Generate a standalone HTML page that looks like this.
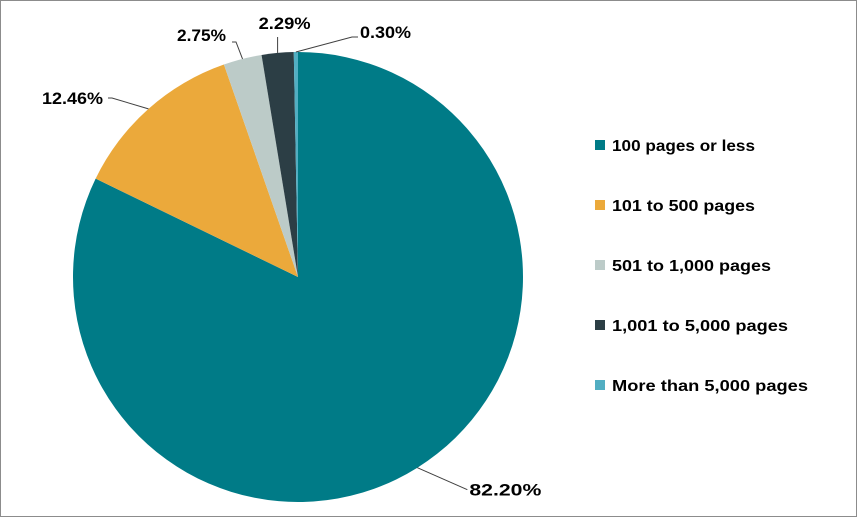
<!DOCTYPE html>
<html><head><meta charset="utf-8"><style>
body{margin:0;background:#fff;}
svg{display:block;font-family:"Liberation Sans",sans-serif;}
</style></head><body>
<svg id="chart" width="857" height="517" viewBox="0 0 857 517">
<rect x="0.5" y="0.5" width="856" height="516" fill="#fff" stroke="#8c8c8c"/>
<g id="slices"></g><g id="labels"></g><g id="legend"></g>
</svg>
<script>
const categories=["100 pages or less","101 to 500 pages","501 to 1,000 pages","1,001 to 5,000 pages","More than 5,000 pages"];
const values=[82.20,12.46,2.75,2.29,0.30];
const valueLabels=["82.20%","12.46%","2.75%","2.29%","0.30%"];
const colors=["#007b87","#eba93b","#bccbc8","#2c3e45","#52aec2"];
const cx=298,cy=277,r=225;
const NS="http://www.w3.org/2000/svg";
const total=values.reduce((a,b)=>a+b,0);
function pt(a,rr){return [cx+rr*Math.sin(a),cy-rr*Math.cos(a)];}
const sg=document.getElementById('slices'),lg=document.getElementById('labels'),leg=document.getElementById('legend');
const labelW=[72,61,49,52,51];
let a0=0;
values.forEach((v,i)=>{
 const a1=a0+v/total*2*Math.PI;
 const p0=pt(a0,r),p1=pt(a1,r);
 const path=document.createElementNS(NS,'path');
 path.setAttribute('d',`M${cx},${cy}L${p0[0]},${p0[1]}A${r},${r} 0 ${a1-a0>Math.PI?1:0} 1 ${p1[0]},${p1[1]}Z`);
 path.setAttribute('fill',colors[i]);
 
 
 sg.appendChild(path);
 const am=(a0+a1)/2;
 const e=pt(am,r);
 let pts,tx,ty;
 if(i===0){pts=`${e[0]},${e[1]} ${e[0]+50},${e[1]+22}`;tx=e[0]+52;ty=e[1]+22;}
 else if(i===1){pts=`${e[0]},${e[1]} 112,98 108,98`;tx=42;ty=98;}
 else if(i===2){pts=`${e[0]},${e[1]} 236,42 232,42`;tx=177;ty=35;}
 else if(i===3){pts=`${e[0]},${e[1]} ${e[0]},37`;tx=e[0]-19;ty=23;}
 else {pts=`${e[0]},${e[1]} 352,37 358,37`;tx=360;ty=32;}
 const ln=document.createElementNS(NS,'polyline');
 ln.setAttribute('points',pts);
 ln.setAttribute('fill','none');ln.setAttribute('stroke','#404040');ln.setAttribute('stroke-width','1');
 
 
 lg.appendChild(ln);
 const t=document.createElementNS(NS,'text');
 t.setAttribute('x',tx);t.setAttribute('y',ty+6);
 t.setAttribute('font-size','17');t.setAttribute('font-weight','bold');t.setAttribute('fill','#000');
 t.setAttribute('textLength',labelW[i]);t.setAttribute('lengthAdjust','spacingAndGlyphs');
 t.textContent=valueLabels[i];
 
 
 lg.appendChild(t);
 a0=a1;
});
const legW=[143,143,159,176,196];
categories.forEach((c,i)=>{
 const y=145+i*60;
 const g=document.createElementNS(NS,'g');
 
 
 const sq=document.createElementNS(NS,'rect');
 sq.setAttribute('x',595);sq.setAttribute('y',y-5);sq.setAttribute('width',10);sq.setAttribute('height',10);
 sq.setAttribute('fill',colors[i]);
 
 
 const t=document.createElementNS(NS,'text');
 t.setAttribute('x',612);t.setAttribute('y',y+6);
 t.setAttribute('font-size','16');t.setAttribute('font-weight','bold');t.setAttribute('fill','#000');
 t.setAttribute('textLength',legW[i]);t.setAttribute('lengthAdjust','spacingAndGlyphs');
 t.textContent=c;
 
 
 g.appendChild(sq);g.appendChild(t);leg.appendChild(g);
});
</script>
</body></html>
